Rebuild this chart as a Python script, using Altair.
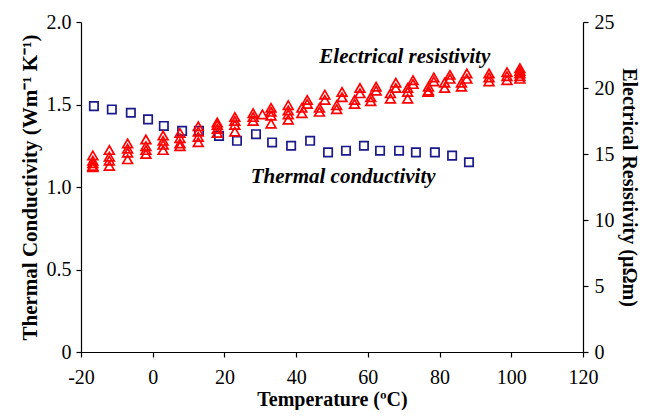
import altair as alt
import pandas as pd

# Thermal conductivity (left axis, W m^-1 K^-1)
tc_temp = [-16.4, -11.4, -6.1, -1.3, 3.1, 8.2, 12.9, 18.5, 23.5, 28.8, 33.3,
           38.6, 43.9, 48.9, 53.9, 58.9, 63.4, 68.7, 73.4, 78.7, 83.5, 88.2]
tc_value = [1.49, 1.47, 1.45, 1.41, 1.37, 1.34, 1.34, 1.31, 1.28, 1.32, 1.27,
            1.25, 1.28, 1.21, 1.22, 1.25, 1.22, 1.22, 1.21, 1.21, 1.19, 1.15]

# Electrical resistivity (right axis, micro-ohm m)
er_temp = [-16.7, -16.7, -16.7, -16.7, -16.7,
           -12.1, -12.1, -12.1, -12.1,
           -7.0, -7.0, -7.0, -7.0,
           -1.9, -1.9, -1.9, -1.9,
           2.9, 2.9, 2.9, 2.9,
           7.6, 7.6, 7.6, 7.6,
           12.7, 12.7, 12.7, 12.7,
           18.0, 18.0, 18.0, 18.0,
           22.9, 22.9, 22.9, 22.9,
           28.0, 28.0, 28.0, 30.6,
           33.0, 33.0, 33.0, 33.0,
           37.8, 37.8, 37.8, 37.8,
           43.1, 43.1, 41.6, 41.6,
           48.0, 48.0, 46.5, 46.5,
           52.8, 52.8, 51.3, 51.3,
           57.8, 57.8, 56.3, 56.3,
           62.3, 62.3, 60.8, 60.8,
           67.8, 67.8, 66.3, 66.3,
           72.6, 72.6, 71.1, 71.1, 71.1, 76.8,
           78.4, 78.4, 76.9, 76.9,
           82.9, 82.9, 81.4, 81.4,
           87.6, 87.6, 86.1, 86.1,
           93.8, 93.8, 93.8,
           98.8, 98.8, 98.8,
           102.4, 102.4, 102.4, 102.4, 102.4]
er_value = [14.9, 14.5, 14.3, 14.1, 14.0,
            15.3, 14.8, 14.5, 14.1,
            15.8, 15.4, 15.1, 14.6,
            16.1, 15.6, 15.3, 15.0,
            16.4, 16.0, 15.7, 15.3,
            16.6, 16.2, 15.8, 15.6,
            17.1, 16.7, 16.3, 15.9,
            17.4, 17.2, 16.9, 16.6,
            17.8, 17.5, 17.2, 16.7,
            18.1, 17.8, 17.5, 18.0,
            18.5, 18.2, 17.9, 17.3,
            18.7, 18.3, 18.0, 17.6,
            19.1, 18.8, 18.5, 18.1,
            19.5, 19.1, 18.5, 18.2,
            19.7, 19.3, 18.7, 18.4,
            20.0, 19.6, 19.1, 18.8,
            20.1, 19.8, 19.3, 19.0,
            20.4, 20.0, 19.6, 19.2,
            20.6, 20.3, 20.0, 19.7, 19.2, 19.7,
            20.8, 20.5, 20.1, 19.8,
            21.0, 20.7, 20.4, 20.0,
            21.1, 20.7, 20.4, 20.1,
            21.1, 20.8, 20.5,
            21.2, 20.9, 20.6,
            21.5, 21.3, 21.1, 20.9, 20.7]

label_text = ["Electrical resistivity", "Thermal conductivity"]
label_temp = [70.3, 53.1]
label_k = [1.79, 1.06]

x_ticks = [-20, 0, 20, 40, 60, 80, 100, 120]
left_ticks = [0, 0.5, 1.0, 1.5, 2.0]
right_ticks = [0, 5, 10, 15, 20, 25]

tc_df = pd.DataFrame({"T": tc_temp, "v": tc_value})
er_df = pd.DataFrame({"T": er_temp, "v": er_value})
lab_df = pd.DataFrame({"label": label_text, "T": label_temp, "v": label_k})

FONT = "Liberation Serif"

x_scale = alt.Scale(domain=[-20, 120], nice=False, zero=False)
x_axis = alt.Axis(values=x_ticks, title="Temperature (ºC)", grid=False,
                  labelExpr="'' + datum.value", labelFlush=False,
                  labelPadding=10, titlePadding=2, titleFontSize=20)
left_scale = alt.Scale(domain=[0, 2], nice=False)
left_axis = alt.Axis(orient="left", values=left_ticks, grid=False,
                     title="Thermal Conductivity (Wm⁻¹ K⁻¹)",
                     labelExpr="datum.value == 0 ? '0' : format(datum.value, '.1f')",
                     labelPadding=5, titlePadding=6)

squares = alt.Chart(tc_df).mark_point(
    shape="square", filled=False, color="#1a1a8c", size=70, strokeWidth=1.7, opacity=1
).encode(
    x=alt.X("T:Q", scale=x_scale, axis=x_axis),
    y=alt.Y("v:Q", scale=left_scale, axis=left_axis),
)

labels = alt.Chart(lab_df).mark_text(
    font=FONT, fontSize=21, fontStyle="italic", fontWeight="bold", color="black"
).encode(
    x=alt.X("T:Q", scale=x_scale, axis=x_axis),
    y=alt.Y("v:Q", scale=left_scale, axis=left_axis),
    text="label:N",
)

left = alt.layer(squares, labels)

triangles = alt.Chart(er_df).mark_point(
    shape="triangle-up", filled=False, color="#ff0000", size=95, strokeWidth=1.7, opacity=1
).encode(
    x=alt.X("T:Q", scale=x_scale, axis=x_axis),
    y=alt.Y("v:Q", scale=alt.Scale(domain=[0, 25], nice=False),
            axis=alt.Axis(orient="right", values=right_ticks, grid=False, format="d",
                          title="Electrical Resistivity (µΩm)", labelPadding=6,
                          titlePadding=4, titleFontSize=20)),
)

chart = alt.layer(left, triangles).resolve_scale(y="independent").properties(
    width=502, height=330,
    autosize=alt.AutoSizeParams(type="none"),
    padding={"left": 73, "top": 14, "right": 58, "bottom": 58},
).configure_view(stroke=None).configure_axis(
    domainColor="black", tickColor="black", labelColor="black", titleColor="black",
    labelFont=FONT, titleFont=FONT, labelFontSize=20, titleFontSize=21,
    titleFontWeight="bold", tickSize=5, domainWidth=1.2, tickWidth=1.2,
)

chart.save("out.html", embed_options={"renderer": "svg", "actions": False})
